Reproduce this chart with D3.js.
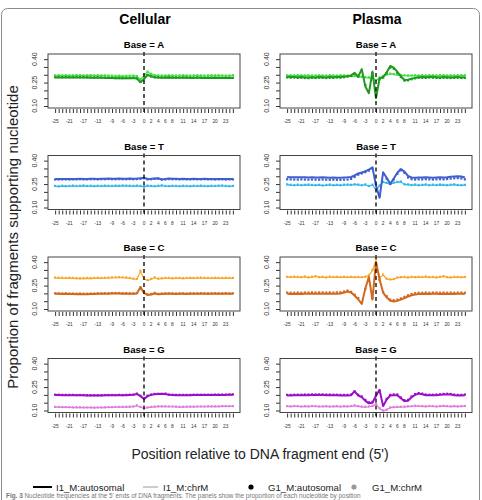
<!DOCTYPE html>
<html>
<head>
<meta charset="utf-8">
<script src="https://cdn.jsdelivr.net/npm/d3@7"></script>
<style>
body { margin: 0; background: #fff; }
svg { font-family: "Liberation Sans", Arial, sans-serif; }
</style>
</head>
<body>
<div id="chart"></div>
<script>
// positions relative to the 5' fragment end
var positions = [-25,-24,-23,-22,-21,-20,-19,-18,-17,-16,-15,-14,-13,-12,-11,-10,-9,-8,-7,-6,-5,-4,-3,-2,-1,
  0,1,2,3,4,5,6,7,8,9,10,11,12,13,14,15,16,17,18,19,20,21,22,23,24,25];
var xTickLabels = [-25,-21,-17,-13,-9,-6,-3,0,2,4,6,8,11,14,17,20,23];
var yTicks = [0.10,0.15,0.20,0.25,0.30,0.35,0.40];
var yTickLabels = [0.10,0.25,0.40];

var conditions = ["Cellular","Plasma"];
var bases = ["A","T","C","G"];
var autoColors = {A:"#1f9a1f", T:"#3f5fcf", C:"#d2691e", G:"#9a10c8"};
var chrMColors = {A:"#40e040", T:"#2fb8ea", C:"#f7a82a", G:"#e07be0"};

// ---- Cellular ----
var cellA_I1auto = [0.282,0.283,0.282,0.283,0.283,0.282,0.283,0.283,0.282,0.282,0.281,0.281,0.282,0.281,0.280,0.280,
  0.279,0.278,0.277,0.277,0.278,0.278,0.279,0.276,0.252,0.272,0.300,0.290,0.283,0.282,
  0.281,0.281,0.282,0.281,0.281,0.280,0.281,0.281,0.280,0.280,0.281,0.280,0.280,0.279,0.280,0.280,0.279,0.279,0.280,0.279,0.279];
var cellA_G1auto = [0.284,0.285,0.284,0.285,0.284,0.284,0.285,0.284,0.284,0.283,0.283,0.282,0.283,0.282,0.282,0.281,
  0.280,0.279,0.279,0.278,0.279,0.279,0.280,0.277,0.255,0.275,0.298,0.289,0.284,0.283,
  0.282,0.283,0.283,0.282,0.282,0.282,0.283,0.282,0.282,0.281,0.282,0.281,0.281,0.281,0.281,0.282,0.281,0.280,0.281,0.281,0.280];
var cellA_I1chrM = [0.294,0.294,0.295,0.294,0.295,0.295,0.294,0.296,0.295,0.294,0.296,0.295,0.294,0.295,0.294,0.293,
  0.292,0.290,0.291,0.290,0.291,0.292,0.293,0.290,0.270,0.295,0.318,0.305,0.296,0.293,
  0.292,0.293,0.294,0.293,0.292,0.293,0.294,0.293,0.292,0.293,0.294,0.293,0.292,0.293,0.294,0.293,0.294,0.293,0.292,0.293,0.294];
var cellA_G1chrM = [0.296,0.297,0.296,0.297,0.296,0.297,0.298,0.297,0.296,0.297,0.298,0.296,0.297,0.296,0.296,0.295,
  0.294,0.293,0.294,0.292,0.293,0.294,0.295,0.292,0.272,0.300,0.320,0.306,0.298,0.296,
  0.295,0.296,0.297,0.296,0.295,0.296,0.297,0.296,0.295,0.296,0.297,0.296,0.295,0.296,0.297,0.296,0.297,0.296,0.295,0.296,0.297];

var cellT_I1auto = [0.282,0.282,0.283,0.283,0.282,0.283,0.283,0.284,0.283,0.283,0.284,0.284,0.283,0.284,0.284,0.285,0.284,0.284,0.285,0.284,0.284,0.285,0.284,0.285,0.287,
  0.290,0.283,0.284,0.286,0.287,0.280,0.283,0.285,
  0.284,0.284,0.283,0.284,0.283,0.283,0.284,0.283,0.283,0.284,0.283,0.283,0.282,0.283,0.283,0.282,0.283,0.283];
var cellT_G1auto = [0.279,0.279,0.280,0.280,0.279,0.280,0.280,0.281,0.280,0.280,0.281,0.281,0.280,0.281,0.281,0.282,0.281,0.281,0.282,0.281,0.281,0.282,0.281,0.282,0.284,
  0.287,0.280,0.281,0.283,0.284,0.278,0.280,0.282,
  0.281,0.281,0.280,0.281,0.280,0.280,0.281,0.280,0.280,0.281,0.280,0.280,0.279,0.280,0.280,0.279,0.280,0.280];
var cellT_I1chrM = [0.236,0.234,0.237,0.235,0.236,0.238,0.236,0.237,0.239,0.236,0.237,0.235,0.237,0.236,0.238,0.237,0.236,0.238,0.237,0.239,0.238,0.237,0.236,0.238,0.236,
  0.232,0.238,0.236,0.235,0.237,0.240,0.236,0.235,
  0.237,0.236,0.235,0.237,0.236,0.235,0.237,0.236,0.238,0.236,0.235,0.237,0.236,0.238,0.239,0.236,0.235,0.236];
var cellT_G1chrM = [0.238,0.236,0.239,0.237,0.238,0.240,0.238,0.239,0.241,0.238,0.239,0.237,0.239,0.238,0.240,0.239,0.238,0.240,0.239,0.241,0.240,0.239,0.238,0.240,0.238,
  0.234,0.240,0.238,0.237,0.239,0.242,0.238,0.237,
  0.239,0.238,0.237,0.239,0.238,0.237,0.239,0.238,0.240,0.238,0.237,0.239,0.238,0.240,0.241,0.238,0.237,0.238];

var cellC_I1auto = [0.197,0.197,0.196,0.197,0.196,0.196,0.195,0.196,0.195,0.195,0.196,0.196,0.197,0.197,0.198,0.198,0.199,0.199,0.199,0.198,0.198,0.197,0.197,0.199,
  0.240,0.203,0.190,0.193,0.199,0.194,
  0.196,0.197,0.197,0.197,0.196,0.197,0.197,0.196,0.197,0.197,0.197,0.198,0.197,0.197,0.197,0.198,0.197,0.197,0.198,0.197,0.197];
var cellC_G1auto = [0.200,0.200,0.199,0.200,0.199,0.199,0.198,0.199,0.198,0.198,0.199,0.199,0.200,0.200,0.201,0.201,0.202,0.202,0.202,0.201,0.201,0.200,0.200,0.202,
  0.238,0.206,0.193,0.196,0.203,0.197,
  0.199,0.200,0.200,0.200,0.199,0.200,0.200,0.199,0.200,0.200,0.200,0.201,0.200,0.200,0.200,0.201,0.200,0.200,0.201,0.200,0.200];
var cellC_I1chrM = [0.298,0.297,0.297,0.296,0.297,0.296,0.295,0.294,0.295,0.296,0.295,0.296,0.297,0.296,0.297,0.298,0.300,0.300,0.301,0.300,0.299,0.296,0.292,0.290,
  0.342,0.292,0.282,0.290,0.300,0.292,
  0.295,0.296,0.296,0.295,0.296,0.296,0.295,0.296,0.297,0.296,0.297,0.298,0.297,0.296,0.296,0.297,0.296,0.296,0.297,0.296,0.296];
var cellC_G1chrM = [0.301,0.300,0.300,0.299,0.300,0.299,0.298,0.297,0.298,0.299,0.298,0.299,0.300,0.299,0.300,0.301,0.303,0.303,0.304,0.303,0.302,0.299,0.295,0.293,
  0.345,0.295,0.285,0.293,0.303,0.295,
  0.298,0.299,0.299,0.298,0.299,0.299,0.298,0.299,0.300,0.299,0.300,0.301,0.300,0.299,0.299,0.300,0.299,0.299,0.300,0.299,0.299];

var cellG_I1auto = [0.199,0.199,0.198,0.198,0.198,0.198,0.197,0.197,0.197,0.196,0.196,0.196,0.196,0.196,0.197,0.197,0.197,0.197,0.198,0.197,0.198,0.199,0.200,
  0.206,0.192,0.174,0.192,0.200,0.204,0.205,0.205,0.206,0.200,
  0.199,0.198,0.198,0.198,0.198,0.198,0.199,0.199,0.199,0.199,0.199,0.199,0.200,0.200,0.200,0.200,0.201,0.201];
var cellG_G1auto = [0.201,0.201,0.200,0.200,0.200,0.200,0.199,0.199,0.199,0.198,0.198,0.198,0.198,0.198,0.199,0.199,0.199,0.199,0.200,0.199,0.200,0.201,0.202,
  0.208,0.194,0.178,0.195,0.202,0.206,0.207,0.207,0.208,0.202,
  0.201,0.200,0.200,0.200,0.200,0.200,0.201,0.201,0.201,0.201,0.201,0.201,0.202,0.202,0.202,0.202,0.203,0.203];
var cellG_I1chrM = [0.121,0.121,0.120,0.120,0.120,0.119,0.119,0.119,0.118,0.118,0.118,0.117,0.118,0.118,0.119,0.120,0.120,0.121,0.121,0.122,0.122,0.123,0.124,
  0.130,0.121,0.113,0.118,0.121,0.123,0.125,0.125,0.125,0.124,
  0.124,0.123,0.122,0.122,0.123,0.123,0.123,0.124,0.124,0.124,0.125,0.125,0.125,0.125,0.126,0.126,0.126,0.126];
var cellG_G1chrM = [0.123,0.123,0.122,0.122,0.122,0.121,0.121,0.121,0.120,0.120,0.120,0.119,0.120,0.120,0.121,0.122,0.122,0.123,0.123,0.124,0.124,0.125,0.126,
  0.133,0.123,0.115,0.120,0.123,0.125,0.127,0.127,0.127,0.126,
  0.126,0.125,0.124,0.124,0.125,0.125,0.125,0.126,0.126,0.126,0.127,0.127,0.127,0.127,0.128,0.128,0.128,0.128];

// ---- Plasma ----
var plasA_I1auto = [0.287,0.285,0.286,0.284,0.285,0.283,0.282,0.284,0.283,0.285,0.284,0.283,0.285,0.284,0.286,0.285,0.288,
  0.290,0.296,0.312,0.289,0.336,0.225,0.182,0.320,0.150,0.276,0.284,0.315,0.356,0.345,0.318,0.290,0.266,0.268,0.275,0.280,0.284,
  0.285,0.284,0.286,0.285,0.284,0.283,0.285,0.284,0.283,0.284,0.285,0.283,0.284];
var plasA_G1auto = [0.283,0.281,0.282,0.280,0.281,0.279,0.278,0.280,0.279,0.281,0.280,0.279,0.281,0.280,0.282,0.281,0.284,
  0.288,0.292,0.305,0.287,0.325,0.235,0.195,0.310,0.165,0.272,0.282,0.310,0.345,0.338,0.312,0.285,0.262,0.264,0.271,0.277,0.281,
  0.281,0.280,0.282,0.281,0.280,0.279,0.281,0.280,0.279,0.280,0.281,0.279,0.280];
var plasA_I1chrM = [0.293,0.294,0.293,0.295,0.294,0.293,0.294,0.292,0.293,0.294,0.293,0.292,0.294,0.293,0.292,0.294,0.293,
  0.292,0.291,0.290,0.288,0.285,0.282,0.280,0.278,0.262,0.280,0.290,0.300,0.305,0.302,0.298,0.296,0.294,0.293,0.293,0.294,0.293,
  0.294,0.293,0.295,0.294,0.293,0.294,0.295,0.293,0.294,0.293,0.294,0.295,0.294];
var plasA_G1chrM = [0.296,0.297,0.296,0.298,0.297,0.296,0.297,0.295,0.296,0.297,0.296,0.295,0.297,0.296,0.295,0.297,0.296,
  0.295,0.294,0.293,0.291,0.288,0.285,0.283,0.280,0.266,0.283,0.293,0.302,0.307,0.304,0.300,0.299,0.297,0.296,0.296,0.297,0.296,
  0.297,0.296,0.298,0.297,0.296,0.297,0.298,0.296,0.297,0.296,0.297,0.298,0.297];

var plasT_I1auto = [0.295,0.294,0.293,0.293,0.294,0.293,0.292,0.293,0.292,0.292,0.293,0.292,0.291,0.292,0.291,0.291,0.292,0.293,
  0.295,0.305,0.318,0.324,0.332,0.342,0.357,0.240,0.162,0.325,0.290,0.252,0.285,0.322,0.346,0.330,0.302,0.292,
  0.291,0.292,0.292,0.293,0.292,0.291,0.292,0.293,0.292,0.294,0.297,0.299,0.300,0.298,0.292];
var plasT_G1auto = [0.281,0.280,0.279,0.279,0.280,0.279,0.278,0.279,0.278,0.278,0.279,0.278,0.277,0.278,0.277,0.277,0.278,0.279,
  0.283,0.295,0.310,0.318,0.326,0.336,0.350,0.245,0.175,0.315,0.284,0.250,0.280,0.315,0.338,0.322,0.292,0.281,
  0.279,0.280,0.280,0.281,0.280,0.279,0.280,0.281,0.280,0.282,0.285,0.287,0.288,0.286,0.280];
var plasT_I1chrM = [0.246,0.243,0.241,0.244,0.241,0.243,0.245,0.242,0.241,0.243,0.240,0.242,0.245,0.241,0.243,0.241,0.244,0.245,
  0.243,0.247,0.245,0.241,0.246,0.236,0.244,0.212,0.238,0.262,0.256,0.250,0.258,0.262,0.264,0.247,0.246,0.242,
  0.245,0.241,0.243,0.246,0.241,0.244,0.242,0.245,0.243,0.241,0.244,0.246,0.242,0.241,0.243];
var plasT_G1chrM = [0.248,0.245,0.243,0.246,0.243,0.245,0.247,0.244,0.243,0.245,0.242,0.244,0.247,0.243,0.245,0.243,0.246,0.247,
  0.245,0.249,0.247,0.243,0.248,0.238,0.246,0.215,0.241,0.264,0.258,0.252,0.260,0.264,0.266,0.249,0.248,0.244,
  0.247,0.243,0.245,0.248,0.243,0.246,0.244,0.247,0.245,0.243,0.246,0.248,0.244,0.243,0.245];

var plasC_I1auto = [0.197,0.196,0.196,0.197,0.196,0.197,0.197,0.198,0.197,0.198,0.198,0.197,0.198,0.197,0.198,0.199,0.205,
  0.212,0.205,0.185,0.162,0.132,0.232,0.305,0.160,0.400,0.290,0.205,0.175,0.153,0.148,0.152,0.160,0.170,0.180,0.188,0.193,0.196,
  0.196,0.197,0.196,0.197,0.197,0.196,0.197,0.196,0.197,0.196,0.197,0.197,0.196];
var plasC_G1auto = [0.205,0.204,0.204,0.205,0.204,0.205,0.205,0.206,0.205,0.206,0.206,0.205,0.206,0.205,0.206,0.207,0.212,
  0.218,0.210,0.192,0.170,0.142,0.228,0.295,0.170,0.392,0.285,0.210,0.182,0.160,0.156,0.160,0.168,0.178,0.188,0.196,0.201,0.204,
  0.204,0.205,0.204,0.205,0.205,0.204,0.205,0.204,0.205,0.204,0.205,0.205,0.204];
var plasC_I1chrM = [0.304,0.303,0.305,0.303,0.302,0.306,0.301,0.304,0.308,0.302,0.304,0.301,0.305,0.303,0.304,0.303,0.304,
  0.303,0.304,0.302,0.303,0.302,0.305,0.315,0.345,0.412,0.298,0.318,0.292,0.288,0.290,0.300,0.302,0.303,0.301,0.304,0.302,0.304,
  0.303,0.306,0.302,0.303,0.301,0.304,0.308,0.302,0.301,0.304,0.303,0.302,0.303];
var plasC_G1chrM = [0.306,0.305,0.307,0.305,0.304,0.308,0.303,0.306,0.310,0.304,0.306,0.303,0.307,0.305,0.306,0.305,0.306,
  0.305,0.306,0.304,0.305,0.304,0.307,0.318,0.350,0.420,0.300,0.320,0.294,0.290,0.292,0.302,0.304,0.305,0.303,0.306,0.304,0.306,
  0.305,0.308,0.304,0.305,0.303,0.306,0.310,0.304,0.303,0.306,0.305,0.304,0.305];

var plasG_I1auto = [0.196,0.196,0.197,0.197,0.197,0.198,0.198,0.199,0.199,0.199,0.199,0.198,0.198,0.197,0.197,0.196,0.196,0.196,
  0.198,0.223,0.196,0.186,0.162,0.146,0.150,0.195,0.232,0.128,0.170,0.196,0.198,0.198,0.178,0.160,0.162,0.185,0.200,0.208,0.204,
  0.198,0.197,0.197,0.198,0.200,0.202,0.203,0.202,0.198,0.196,0.196,0.198];
var plasG_G1auto = [0.200,0.200,0.201,0.201,0.201,0.202,0.202,0.203,0.203,0.203,0.203,0.202,0.202,0.201,0.201,0.200,0.200,0.200,
  0.202,0.222,0.200,0.190,0.168,0.152,0.155,0.195,0.226,0.135,0.175,0.200,0.203,0.203,0.183,0.166,0.168,0.190,0.205,0.212,0.208,
  0.202,0.201,0.201,0.202,0.204,0.206,0.207,0.206,0.202,0.200,0.200,0.202];
var plasG_I1chrM = [0.126,0.125,0.127,0.126,0.124,0.126,0.125,0.127,0.126,0.124,0.125,0.126,0.124,0.125,0.126,0.124,0.126,0.125,
  0.127,0.130,0.126,0.123,0.122,0.124,0.128,0.142,0.112,0.098,0.104,0.118,0.120,0.121,0.122,0.123,0.125,0.126,0.129,0.127,0.126,
  0.125,0.127,0.126,0.124,0.126,0.128,0.126,0.125,0.127,0.125,0.126,0.127];
var plasG_G1chrM = [0.128,0.127,0.129,0.128,0.126,0.128,0.127,0.129,0.128,0.126,0.127,0.128,0.126,0.127,0.128,0.126,0.128,0.127,
  0.129,0.133,0.128,0.125,0.124,0.126,0.130,0.145,0.115,0.100,0.106,0.120,0.122,0.123,0.124,0.125,0.127,0.128,0.131,0.129,0.128,
  0.127,0.129,0.128,0.126,0.128,0.130,0.128,0.127,0.129,0.127,0.128,0.129];

// lookup table built from the arrays above
var panelData = {
  Cellular: {
    A: {I1auto: cellA_I1auto, G1auto: cellA_G1auto, I1chrM: cellA_I1chrM, G1chrM: cellA_G1chrM},
    T: {I1auto: cellT_I1auto, G1auto: cellT_G1auto, I1chrM: cellT_I1chrM, G1chrM: cellT_G1chrM},
    C: {I1auto: cellC_I1auto, G1auto: cellC_G1auto, I1chrM: cellC_I1chrM, G1chrM: cellC_G1chrM},
    G: {I1auto: cellG_I1auto, G1auto: cellG_G1auto, I1chrM: cellG_I1chrM, G1chrM: cellG_G1chrM}
  },
  Plasma: {
    A: {I1auto: plasA_I1auto, G1auto: plasA_G1auto, I1chrM: plasA_I1chrM, G1chrM: plasA_G1chrM},
    T: {I1auto: plasT_I1auto, G1auto: plasT_G1auto, I1chrM: plasT_I1chrM, G1chrM: plasT_G1chrM},
    C: {I1auto: plasC_I1auto, G1auto: plasC_G1auto, I1chrM: plasC_I1chrM, G1chrM: plasC_G1chrM},
    G: {I1auto: plasG_I1auto, G1auto: plasG_G1auto, I1chrM: plasG_I1chrM, G1chrM: plasG_G1chrM}
  }
};

var svg = d3.select("#chart").append("svg")
    .attr("width", 482)
    .attr("height", 500);

// outer frame of the figure
svg.append("rect")
    .attr("x", 1.5).attr("y", 8.5)
    .attr("width", 478).attr("height", 540)
    .attr("rx", 6)
    .attr("fill", "none")
    .attr("stroke", "#8c8c8c");

var boxLeft = {Cellular: 48, Plasma: 280};
var boxW = 192, boxH = 54;
var rowTop = [54, 155.5, 257, 358.5];

var x = d3.scaleLinear().domain([-27, 27]).range([0, boxW]);
var y = d3.scaleLinear().domain([0.0872, 0.4328]).range([boxH, 0]);

function drawSeries(g, vals, color, width, withLine) {
  var pts = positions.map(function(p, i) { return [p, vals[i]]; });
  if (withLine) {
    g.append("path")
        .datum(pts)
        .attr("fill", "none")
        .attr("stroke", color)
        .attr("stroke-width", width)
        .attr("stroke-linejoin", "round")
        .attr("d", d3.line().x(function(d){return x(d[0]);}).y(function(d){return y(d[1]);}));
  } else {
    g.selectAll(null)
        .data(pts)
        .enter()
        .append("rect")
        .attr("x", function(d){return x(d[0]) - 1.1;})
        .attr("y", function(d){return y(d[1]) - 1.1;})
        .attr("width", 2.2)
        .attr("height", 2.2)
        .attr("fill", color);
  }
}

conditions.forEach(function(cond) {
  svg.append("text")
      .attr("x", boxLeft[cond] + boxW / 2 + 1)
      .attr("y", 24)
      .attr("text-anchor", "middle")
      .style("font-weight", "bold")
      .style("font-size", "14px")
      .text(cond);

  bases.forEach(function(b, i) {
    var g = svg.append("g")
        .attr("transform", "translate(" + boxLeft[cond] + "," + rowTop[i] + ")");
    var d = panelData[cond][b];

    g.append("text")
        .attr("x", boxW / 2)
        .attr("y", -6)
        .attr("text-anchor", "middle")
        .style("font-weight", "bold")
        .style("font-size", "9.6px")
        .text("Base = " + b);

    // y axis: ticks every 0.05, only some labelled
    var yAxis = g.append("g")
        .call(d3.axisLeft(y).tickValues(yTicks).tickSize(4).tickFormat(""));
    yAxis.select(".domain").remove();
    yAxis.selectAll("line").attr("stroke", "#333");
    g.selectAll(".ylab")
        .data(yTickLabels)
        .enter()
        .append("text")
        .attr("transform", function(v){return "translate(-11.5," + y(v) + ") rotate(-90)";})
        .attr("text-anchor", "middle")
        .style("font-size", "7px")
        .attr("fill", "#333")
        .text(function(v){return v.toFixed(2);});

    // x axis
    var xAxis = g.append("g")
        .attr("transform", "translate(0," + (boxH + 1) + ")")
        .call(d3.axisBottom(x).tickValues(positions).tickSize(4).tickFormat(""));
    xAxis.select(".domain").remove();
    xAxis.selectAll("line").attr("stroke", "#333");
    g.selectAll(".xlab")
        .data(xTickLabels)
        .enter()
        .append("text")
        .attr("x", function(v){return x(v);})
        .attr("y", boxH + 15)
        .attr("text-anchor", "middle")
        .style("font-size", "4.8px")
        .attr("fill", "#333")
        .text(function(v){return v;});

    drawSeries(g, d.I1chrM, chrMColors[b], 1.2, true);
    drawSeries(g, d.G1chrM, chrMColors[b], 0, false);
    drawSeries(g, d.I1auto, autoColors[b], 2, true);
    drawSeries(g, d.G1auto, autoColors[b], 0, false);

    g.append("line")
        .attr("x1", x(0)).attr("x2", x(0))
        .attr("y1", -2).attr("y2", boxH + 5)
        .attr("stroke", "#111")
        .attr("stroke-width", 1.4)
        .attr("stroke-dasharray", "4,3");

    g.append("rect")
        .attr("width", boxW).attr("height", boxH)
        .attr("fill", "none")
        .attr("stroke", "#444")
        .attr("stroke-width", 1);
  });
});

// axis titles
svg.append("text")
    .attr("transform", "translate(18,237) rotate(-90)")
    .attr("text-anchor", "middle")
    .style("font-size", "15px")
    .attr("fill", "#222")
    .text("Proportion of fragments supporting nucleotide");

svg.append("text")
    .attr("x", 260)
    .attr("y", 459)
    .attr("text-anchor", "middle")
    .style("font-size", "14px")
    .attr("fill", "#222")
    .text("Position relative to DNA fragment end (5')");

// legend
var legY = 487;
svg.append("line").attr("x1", 33).attr("x2", 52).attr("y1", legY).attr("y2", legY)
    .attr("stroke", "#000").attr("stroke-width", 2);
svg.append("line").attr("x1", 143).attr("x2", 158).attr("y1", legY).attr("y2", legY)
    .attr("stroke", "#999").attr("stroke-width", 1);
svg.append("circle").attr("cx", 251).attr("cy", legY).attr("r", 2.6).attr("fill", "#000");
svg.append("circle").attr("cx", 354).attr("cy", legY).attr("r", 2.6).attr("fill", "#999");
var legText = [["I1_M:autosomal", 56], ["I1_M:chrM", 163], ["G1_M:autosomal", 268], ["G1_M:chrM", 372]];
svg.selectAll(".leg")
    .data(legText)
    .enter()
    .append("text")
    .attr("x", function(d){return d[1];})
    .attr("y", legY + 3.5)
    .style("font-size", "9.6px")
    .attr("fill", "#222")
    .text(function(d){return d[0];});

// caption line at the very bottom
var cap = svg.append("text").attr("x", 6).attr("y", 497.5).style("font-size", "6.4px").attr("fill", "#777");
cap.append("tspan").style("font-weight", "bold").text("Fig. 3 ");
cap.append("tspan").text("Nucleotide frequencies at the 5' ends of DNA fragments. The panels show the proportion of each nucleotide by position");
</script>
</body>
</html>
